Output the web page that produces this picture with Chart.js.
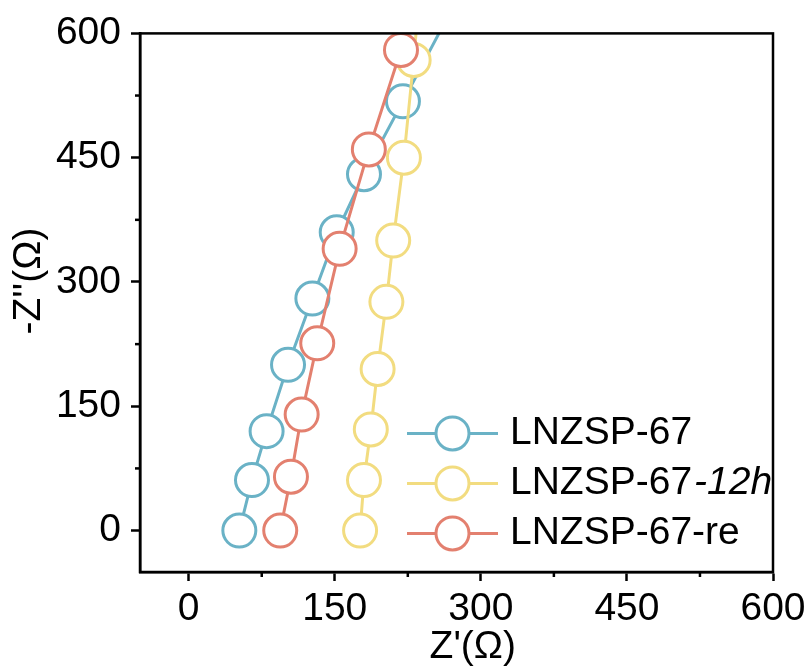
<!DOCTYPE html>
<html><head><meta charset="utf-8">
<script src="https://cdn.jsdelivr.net/npm/chart.js@4/dist/chart.umd.min.js"></script>
<style>html,body{margin:0;padding:0;background:#fff;}canvas{display:block}</style>
</head><body>
<canvas id="c" width="811" height="671"></canvas>
<script>
// ---- data ----
const seriesNames = ['LNZSP-67', 'LNZSP-67-12h', 'LNZSP-67-re'];
const legendMain = ['LNZSP-67', 'LNZSP-67', 'LNZSP-67-re'];
const legendItalic = ['', '-12h', ''];
const seriesColors = ['#6AB2C6', '#F2DC80', '#E3806F'];

const blueX = [52, 65, 80, 102, 127, 152, 180, 220, 275];
const blueY = [0, 61, 120, 200, 280, 360, 430, 518, 640];
const yellowX = [176, 180, 187, 194, 203, 210, 221, 231, 238];
const yellowY = [0, 61, 122, 195, 276, 350, 450, 568, 660];
const redX = [94, 105, 116, 132, 155, 185, 218];
const redY = [0, 65, 140, 226, 340, 460, 580];

const majorTicks = [0, 150, 300, 450, 600];
const minorTicks = [75, 225, 375, 525];
const xTitle = "   Z'(Ω)";
const yTitle = "    -Z''(Ω)";

const FONT = "'Liberation Sans', Arial, sans-serif";
const FS = 39;
const R = 16.5;

function pts(xs, ys) { return xs.map((x, i) => ({ x: x, y: ys[i] })); }

function ds(i, xs, ys, order) {
  return {
    label: seriesNames[i],
    data: pts(xs, ys),
    showLine: true,
    borderColor: seriesColors[i],
    backgroundColor: '#fff',
    borderWidth: 3,
    pointRadius: R,
    pointHoverRadius: R,
    pointBorderWidth: 3,
    pointBackgroundColor: '#fff',
    pointBorderColor: seriesColors[i],
    tension: 0,
    clip: 0,
    order: order
  };
}

const framePlugin = {
  id: 'frame',
  afterDatasetsDraw(chart) {
    const { ctx, chartArea: a, scales } = chart;
    ctx.save();
    ctx.strokeStyle = '#000';
    ctx.lineWidth = 2.5;
    ctx.strokeRect(a.left, a.top, a.right - a.left, a.bottom - a.top);
    minorTicks.forEach(v => {
      const px = scales.x.getPixelForValue(v);
      ctx.beginPath(); ctx.moveTo(px, a.bottom); ctx.lineTo(px, a.bottom + 5); ctx.stroke();
      const py = scales.y.getPixelForValue(v);
      ctx.beginPath(); ctx.moveTo(a.left, py); ctx.lineTo(a.left - 5, py); ctx.stroke();
    });
    ctx.restore();
  }
};

const legendPlugin = {
  id: 'lineLegend',
  afterDraw(chart) {
    const { ctx, chartArea: a } = chart;
    const x0 = a.left + 267, lineLen = 91, y0 = a.top + 400, gap = 50;
    ctx.save();
    seriesNames.forEach((name, i) => {
      const cy = y0 + i * gap;
      const col = seriesColors[i];
      ctx.strokeStyle = col;
      ctx.lineWidth = 3;
      ctx.beginPath(); ctx.moveTo(x0, cy); ctx.lineTo(x0 + lineLen, cy); ctx.stroke();
      ctx.beginPath(); ctx.arc(x0 + lineLen / 2, cy, R, 0, Math.PI * 2);
      ctx.fillStyle = '#fff'; ctx.fill(); ctx.stroke();
      ctx.fillStyle = '#000';
      ctx.textBaseline = 'middle';
      ctx.textAlign = 'left';
      ctx.font = FS + 'px ' + FONT;
      const tx = x0 + lineLen + 12;
      ctx.fillText(legendMain[i], tx, cy);
      if (legendItalic[i]) {
        const w = ctx.measureText(legendMain[i]).width;
        ctx.font = 'italic ' + FS + 'px ' + FONT;
        ctx.fillText(legendItalic[i], tx + w + 2, cy);
      }
    });
    ctx.restore();
  }
};

const tickFont = { family: FONT, size: FS };

new Chart(document.getElementById('c'), {
  type: 'scatter',
  data: {
    datasets: [
      ds(0, blueX, blueY, 2),
      ds(1, yellowX, yellowY, 1),
      ds(2, redX, redY, 0)
    ]
  },
  options: {
    responsive: false,
    animation: false,
    devicePixelRatio: 1,
    layout: { padding: { top: 33, right: 38, left: 0, bottom: 0 } },
    plugins: { legend: { display: false }, tooltip: { enabled: false } },
    scales: {
      x: {
        type: 'linear', min: -50, max: 600,
        afterBuildTicks: s => { s.ticks = majorTicks.map(v => ({ value: v })); },
        afterFit: s => { s.height = 99; },
        ticks: { font: tickFont, color: '#000', padding: 5, maxRotation: 0, autoSkip: false },
        grid: { drawOnChartArea: false, drawTicks: true, tickLength: 9, tickWidth: 2.5, tickColor: '#000' },
        border: { display: true, color: '#000', width: 2.5 },
        title: { display: true, text: xTitle, font: tickFont, color: '#000', padding: { top: 0, bottom: 0 } }
      },
      y: {
        type: 'linear', min: -50, max: 600,
        afterBuildTicks: s => { s.ticks = majorTicks.map(v => ({ value: v })); },
        afterFit: s => { s.width = 140; },
        ticks: { font: tickFont, color: '#000', padding: 10, autoSkip: false },
        grid: { drawOnChartArea: false, drawTicks: true, tickLength: 9, tickWidth: 2.5, tickColor: '#000' },
        border: { display: true, color: '#000', width: 2.5 },
        title: { display: true, text: yTitle, font: tickFont, color: '#000', padding: { top: 6, bottom: 0 } }
      }
    }
  },
  plugins: [framePlugin, legendPlugin]
});
</script>
</body></html>
